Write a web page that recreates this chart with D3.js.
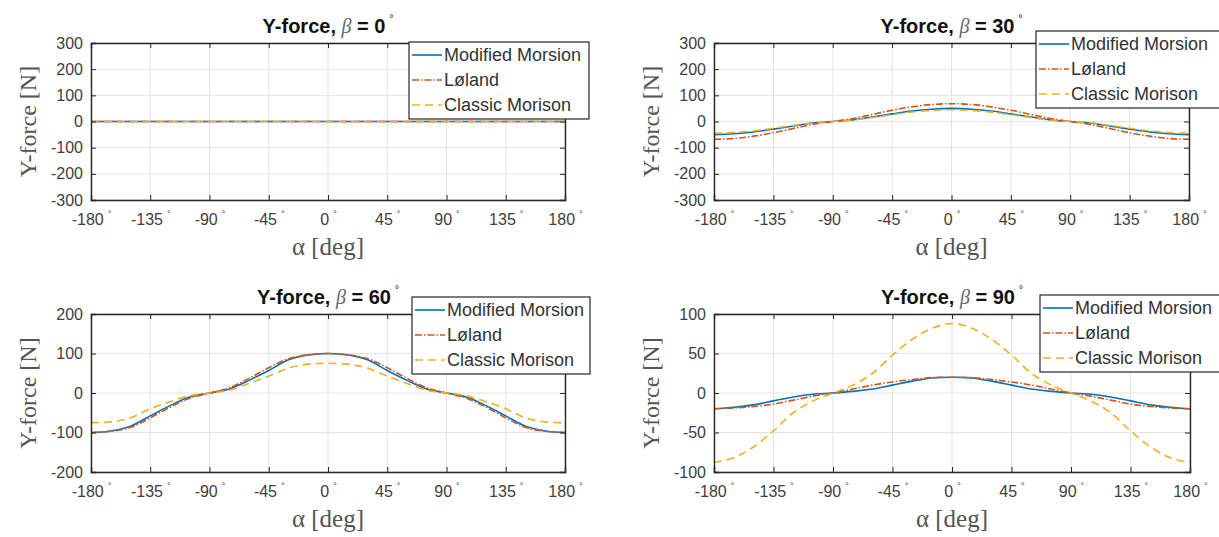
<!DOCTYPE html>
<html><head><meta charset="utf-8">
<script src="https://cdn.jsdelivr.net/npm/d3@7"></script>
<style>body{margin:0;background:#fff}svg{display:block}</style>
</head><body><svg id="c" width="1219" height="537"></svg>
<script>
// ---------- data ----------
const alpha = [-180,-165,-150,-135,-120,-105,-90,-75,-60,-45,-30,-15,0,15,30,45,60,75,90,105,120,135,150,165,180];
const xTicks = [-180,-135,-90,-45,0,45,90,135,180];
const seriesNames = ["Modified Morsion","Løland","Classic Morison"];
const betas = [0,30,60,90];
const yTicks0 = [-300,-200,-100,0,100,200,300];
const yTicks30 = [-300,-200,-100,0,100,200,300];
const yTicks60 = [-200,-100,0,100,200];
const yTicks90 = [-100,-50,0,50,100];

const mm0 = [0,0,0,0,0,0,0,0,0,0,0,0,0,0,0,0,0,0,0,0,0,0,0,0,0];
const lo0 = [0,0,0,0,0,0,0,0,0,0,0,0,0,0,0,0,0,0,0,0,0,0,0,0,0];
const cm0 = [0,0,0,0,0,0,0,0,0,0,0,0,0,0,0,0,0,0,0,0,0,0,0,0,0];

const mm30 = [-50,-47,-40,-29,-17,-6,0,6,17,29,40,47,50,47,40,29,17,6,0,-6,-17,-29,-40,-47,-50];
const lo30 = [-68,-65,-56,-43,-27,-11,0,11,27,43,56,65,68,65,56,43,27,11,0,-11,-27,-43,-56,-65,-68];
const cm30 = [-45,-42,-36,-26,-15,-5,0,5,15,26,36,42,45,42,36,26,15,5,0,-5,-15,-26,-36,-42,-45];

const mm60 = [-100,-96,-84,-58,-32,-10,0,10,32,57,84,96,100,96,84,57,32,10,0,-10,-32,-58,-84,-96,-100];
const lo60 = [-100,-97,-87,-63,-36,-13,0,13,37,64,87,97,100,97,87,64,37,13,0,-13,-36,-63,-87,-97,-100];
const cm60 = [-75,-73,-63,-40,-22,-7,0,7,24,43,63,73,75,73,63,43,24,7,0,-7,-22,-40,-63,-73,-75];

const mm90 = [-20,-18,-15,-10,-5,-1.5,0,2,5,10,15,19,20,19,15,10,5,2,0,-1.5,-5,-10,-15,-18,-20];
const lo90 = [-20,-19,-17,-14,-9,-4,0,5,10,14,17,19.5,20,19.5,17,14,10,5,0,-4,-9,-14,-17,-19,-20];
const cm90 = [-88,-82,-68,-48,-25,-10,0,10,25,48,68,82,88,82,68,48,25,10,0,-10,-25,-48,-68,-82,-88];

// ---------- layout ----------
const panels = [
  {beta:betas[0], yt:yTicks0, s:[mm0,lo0,cm0], l:91, r:565, t:43, b:200, leg:{x:409,y:42,w:180}},
  {beta:betas[1], yt:yTicks30, s:[mm30,lo30,cm30], l:714, r:1189, t:43, b:200, leg:{x:1036,y:31,w:188}},
  {beta:betas[2], yt:yTicks60, s:[mm60,lo60,cm60], l:91, r:565, t:314, b:472, leg:{x:412,y:297,w:178}},
  {beta:betas[3], yt:yTicks90, s:[mm90,lo90,cm90], l:714, r:1190, t:314, b:472, leg:{x:1040,y:295,w:185}}
];
const colors = ["#0072BD","#D95319","#EDB120"];
const dashes = [null,"7,2,1.5,2","8,5"];
const svg = d3.select("#c");
const sans = "Arial, 'Liberation Sans', Helvetica, sans-serif";
const serif = "'Liberation Serif','DejaVu Serif',serif";

panels.forEach(p => {
  const g = svg.append("g");
  const x = d3.scaleLinear().domain([-180,180]).range([p.l,p.r]);
  const yd = d3.extent(p.yt);
  const y = d3.scaleLinear().domain(yd).range([p.b,p.t]);
  // grid
  g.append("g").selectAll("line").data(xTicks).join("line")
    .attr("x1",d=>x(d)).attr("x2",d=>x(d)).attr("y1",p.t).attr("y2",p.b)
    .attr("stroke","#e3e3e3").attr("stroke-width",1);
  g.append("g").selectAll("line").data(p.yt).join("line")
    .attr("y1",d=>y(d)).attr("y2",d=>y(d)).attr("x1",p.l).attr("x2",p.r)
    .attr("stroke","#e3e3e3").attr("stroke-width",1);
  // curves
  const line = d3.line().x((d,i)=>x(alpha[i])).y(d=>y(d)).curve(d3.curveCatmullRom);
  [0,1,2].forEach(k=>{
    g.append("path").datum(p.s[k]).attr("d",line).attr("fill","none")
      .attr("stroke",colors[k]).attr("stroke-width",1.6)
      .attr("stroke-dasharray",dashes[k]);
  });
  // axes with inward ticks
  const ax = (gen, tr) => g.append("g").attr("transform",tr).call(gen);
  const bottom = ax(d3.axisBottom(x).tickValues(xTicks).tickSize(-5).tickPadding(14).tickFormat(d=>d), `translate(0,${p.b})`);
  ax(d3.axisTop(x).tickValues(xTicks).tickSize(-5).tickFormat(""), `translate(0,${p.t})`);
  ax(d3.axisLeft(y).tickValues(p.yt).tickSize(-5).tickPadding(8).tickFormat(d=>d), `translate(${p.l},0)`);
  ax(d3.axisRight(y).tickValues(p.yt).tickSize(-5).tickFormat(""), `translate(${p.r},0)`);
  g.selectAll(".domain").attr("stroke","#262626").attr("stroke-width",1.4);
  g.selectAll(".tick line").attr("stroke","#262626").attr("stroke-width",1);
  g.selectAll(".tick text").attr("font-family",sans).attr("font-size",16).attr("fill","#404040");
  bottom.selectAll(".tick text").each(function(d){
    const t = d3.select(this);
    t.text(null);
    t.append("tspan").text(d);
    t.append("tspan").attr("dy",-8).attr("dx",4).attr("font-size",9).text("°");
  });
  // title
  const cx = (p.l+p.r)/2;
  const title = g.append("text").attr("x",cx).attr("y",p.t-10).attr("text-anchor","middle")
    .attr("font-family",sans).attr("font-size",20).attr("font-weight","bold").attr("fill","#111");
  title.append("tspan").text("Y-force, ");
  title.append("tspan").attr("font-family",serif).attr("font-style","italic").attr("font-weight","normal").attr("fill","#666").text("β");
  title.append("tspan").text(" = " + p.beta);
  title.append("tspan").attr("dy",-11).attr("dx",4).attr("font-size",10).attr("font-weight","normal").text("°");
  // axis labels
  g.append("text").attr("x",cx).attr("y",p.b+55).attr("text-anchor","middle")
    .attr("font-family",serif).attr("font-size",25).attr("fill","#555")
    .text("α [deg]");
  g.append("text").attr("transform",`translate(${p.l-55},${(p.t+p.b)/2}) rotate(-90)`)
    .attr("text-anchor","middle").attr("font-family",serif).attr("font-size",24).attr("fill","#555")
    .text("Y-force [N]");
  // legend
  const L = p.leg, lh = 77;
  const lg = g.append("g");
  lg.append("rect").attr("x",L.x).attr("y",L.y).attr("width",L.w).attr("height",lh)
    .attr("fill","#fff").attr("stroke","#262626").attr("stroke-width",1.2);
  seriesNames.forEach((nm,k)=>{
    const yy = L.y + 13 + k*25;
    lg.append("line").attr("x1",L.x+3).attr("x2",L.x+33).attr("y1",yy).attr("y2",yy)
      .attr("stroke",colors[k]).attr("stroke-width",1.6).attr("stroke-dasharray",dashes[k]);
    lg.append("text").attr("x",L.x+35).attr("y",yy+6).attr("font-family",sans).attr("font-size",18)
      .attr("fill","#333").text(nm);
  });
});
</script></body></html>
